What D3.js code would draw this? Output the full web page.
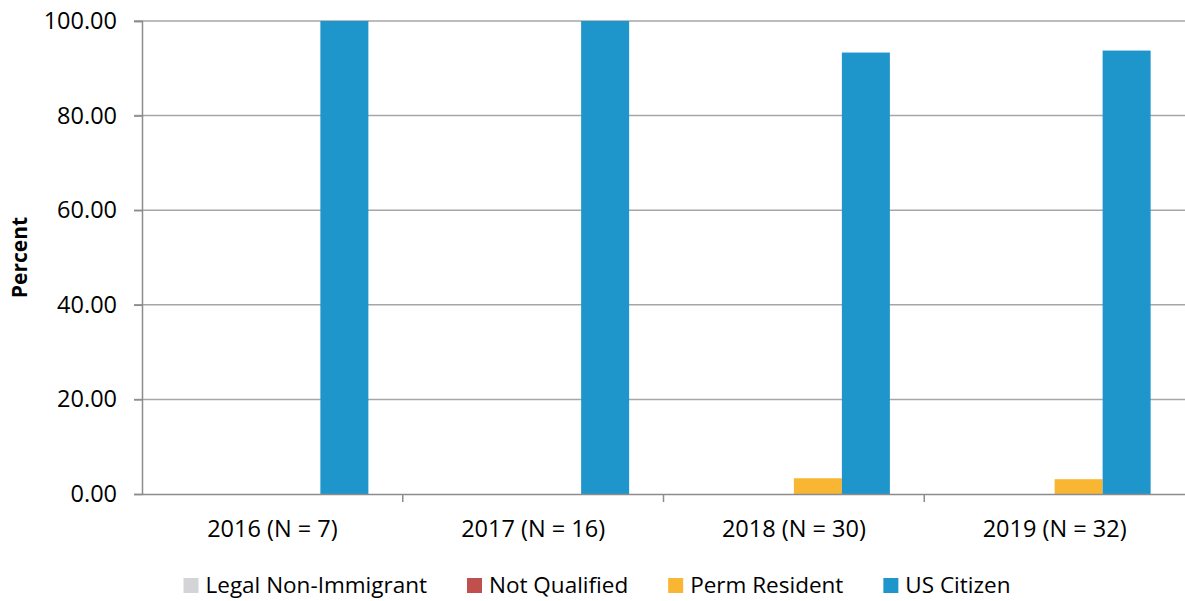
<!DOCTYPE html>
<html>
<head>
<meta charset="utf-8">
<script src="https://d3js.org/d3.v7.min.js"></script>
<style>
body { margin: 0; background: #fff; }
svg text { font-family: "Open Sans", Lato, sans-serif; fill: #000; }
</style>
</head>
<body>
<svg id="chart" width="1185" height="601"></svg>
<script>
// categories and series
var years = ["2016 (N = 7)", "2017 (N = 16)", "2018 (N = 30)", "2019 (N = 32)"];
var seriesNames = ["Legal Non-Immigrant", "Not Qualified", "Perm Resident", "US Citizen"];
var legalNonImmigrant = [0, 0, 0, 0];
var notQualified = [0, 0, 0, 0];
var permResident = [0, 0, 3.33, 3.13];
var usCitizen = [100, 100, 93.33, 93.75];
var yTicks = [0, 20, 40, 60, 80, 100];
var colors = ["#d4d4d6", "#c0504d", "#f9b632", "#1e96cc"];

var values = [legalNonImmigrant, notQualified, permResident, usCitizen];

var svg = d3.select("#chart");
var plotLeft = 142, plotRight = 1185, plotTop = 21, plotBottom = 494;

var x0 = d3.scaleBand().domain(years).range([plotLeft, plotRight]);
var x1 = d3.scaleBand().domain(seriesNames).range([0, x0.bandwidth()])
  .paddingInner(0).paddingOuter(0.716);
var y = d3.scaleLinear().domain([0, 100]).range([plotBottom, plotTop]);

// gridlines
svg.append("g").selectAll("line")
  .data(yTicks.filter(function(d) { return d > 0; }))
  .enter().append("line")
  .attr("x1", plotLeft - 8).attr("x2", plotRight)
  .attr("y1", function(d) { return y(d); })
  .attr("y2", function(d) { return y(d); })
  .attr("stroke", "#a6a6a6").attr("stroke-width", 1.5);

// bars
var rows = [];
years.forEach(function(yr, i) {
  seriesNames.forEach(function(s, j) {
    rows.push({ year: yr, series: s, value: values[j][i], color: colors[j] });
  });
});
svg.append("g").selectAll("rect")
  .data(rows)
  .enter().append("rect")
  .attr("x", function(d) { return x0(d.year) + x1(d.series); })
  .attr("width", x1.bandwidth())
  .attr("y", function(d) { return y(d.value); })
  .attr("height", function(d) { return plotBottom - y(d.value); })
  .attr("fill", function(d) { return d.color; });

// y axis
var yAxis = svg.append("g")
  .attr("transform", "translate(" + plotLeft + ",0)")
  .call(d3.axisLeft(y).tickValues(yTicks).tickSize(8).tickPadding(17)
    .tickFormat(d3.format(".2f")));
yAxis.select(".domain").attr("stroke", "#8c8c8c").attr("stroke-width", 1.5);
yAxis.selectAll(".tick line").attr("stroke", "#8c8c8c").attr("stroke-width", 1.5);
yAxis.selectAll("text").attr("font-size", "23.5px").attr("fill", "#000");

// x axis
var xAxis = svg.append("g")
  .attr("transform", "translate(0," + plotBottom + ")")
  .call(d3.axisBottom(x0).tickSize(0));
xAxis.select(".domain").attr("stroke", "#8c8c8c").attr("stroke-width", 1.5);
xAxis.selectAll("text").attr("font-size", "23.5px").attr("fill", "#000")
  .attr("y", 43).attr("dy", 0);
xAxis.selectAll(".sep")
  .data(years.slice(1))
  .enter().append("line")
  .attr("class", "sep")
  .attr("x1", function(d) { return x0(d); })
  .attr("x2", function(d) { return x0(d); })
  .attr("y1", 0).attr("y2", 8)
  .attr("stroke", "#8c8c8c").attr("stroke-width", 1.5);

// y title
svg.append("text")
  .attr("transform", "translate(27," + ((plotTop + plotBottom) / 2) + ") rotate(-90)")
  .attr("text-anchor", "middle")
  .attr("font-size", "21px")
  .attr("font-weight", "bold")
  .text("Percent");

// legend, laid out from measured text widths and centred on the page
var legend = svg.append("g").attr("class", "legend");
var items = legend.selectAll("g")
  .data(seriesNames)
  .enter().append("g");
items.append("rect")
  .attr("x", 0).attr("y", -7).attr("width", 15).attr("height", 15)
  .attr("fill", function(d, i) { return colors[i]; });
items.append("text")
  .attr("x", 22).attr("y", 0).attr("dy", "0.35em")
  .attr("font-size", "22.5px")
  .text(function(d) { return d; });
var pos = 0, offsets = [];
items.each(function() {
  offsets.push(pos);
  pos += 22 + d3.select(this).select("text").node().getComputedTextLength() + 40;
});
var legendStart = 597 - (pos - 40) / 2;
items.attr("transform", function(d, i) { return "translate(" + (legendStart + offsets[i]) + ",585)"; });
</script>
</body>
</html>
